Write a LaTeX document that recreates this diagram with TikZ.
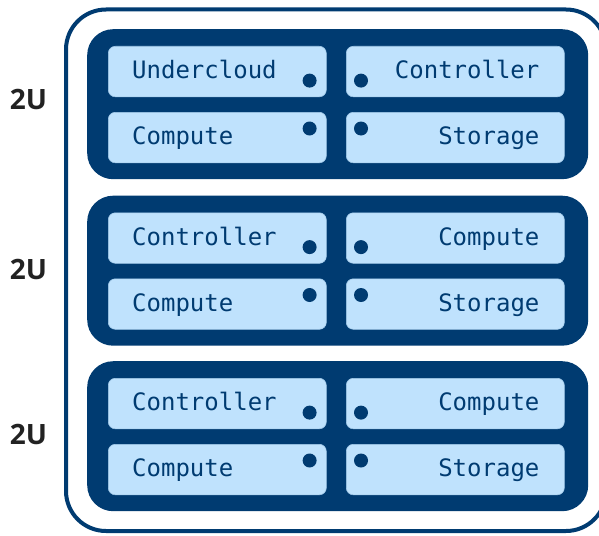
\documentclass[tikz,border=0pt]{standalone}
\usepackage{fontspec}
\setmonofont{DejaVu Sans Mono}
\newfontfamily\unitfont{Open Sans}
\usetikzlibrary{calc}
\definecolor{navy}{HTML}{003B71}
\definecolor{bladeblue}{HTML}{BFE2FD}
\definecolor{unitgray}{HTML}{222222}
\tikzset{
  frame/.style={draw=navy, line width=4pt, rounded corners=40pt},
  rack/.style={fill=navy, draw=none, rounded corners=26pt, inner sep=0pt,
    minimum width=501pt, minimum height=150pt},
  blade/.style={fill=bladeblue, draw=bladeblue!85!navy, line width=0.6pt,
    rounded corners=7pt, inner sep=0pt, minimum width=218pt, minimum height=50.5pt},
  bladetext/.style={inner sep=0pt, text=navy, font=\ttfamily\fontsize{24pt}{28pt}\selectfont},
  led/.style={fill=navy},
  ulabel/.style={inner sep=0pt, text=unitgray, font=\unitfont\bfseries\fontsize{28pt}{32pt}\selectfont}
}
\begin{document}
\begin{tikzpicture}[x=1pt, y=-1pt]
\useasboundingbox (0,0) rectangle (599,535);
% chassis enclosure
\draw[frame] (66,9.5) rectangle (606,531);
% three 2U units, each holding four half-width blades
\foreach \r/\T/\U/\a/\b/\c/\d in {
  1/29/99.3/Undercloud/Controller/Compute/Storage,
  2/195.5/269.3/Controller/Compute/Compute/Storage,
  3/361/434.3/Controller/Compute/Compute/Storage}{
  \node[rack, anchor=north west] (rack\r) at (87,\T) {};
  \node[ulabel] (u\r) at (28.5,\U) {2U};
  \node[blade, anchor=north west] (b\r a) at (108,\T+17) {};
  \node[blade, anchor=north west] (b\r b) at (346,\T+17) {};
  \node[blade, anchor=north west] (b\r c) at (108,\T+83) {};
  \node[blade, anchor=north west] (b\r d) at (346,\T+83) {};
  \node[bladetext, anchor=base west] (t\r a) at ($(b\r a.west)+(24,7.3)$) {\a};
  \node[bladetext, anchor=base east] (t\r b) at ($(b\r b.east)+(-25,7.3)$) {\b};
  \node[bladetext, anchor=base west] (t\r c) at ($(b\r c.west)+(24,7.3)$) {\c};
  \node[bladetext, anchor=base east] (t\r d) at ($(b\r d.east)+(-25,7.3)$) {\d};
  % status LEDs
  \fill[led] ($(b\r a.south east)+(-17,-16.5)$) circle[radius=7pt];
  \fill[led] ($(b\r b.south west)+(15,-16.5)$) circle[radius=7pt];
  \fill[led] ($(b\r c.north east)+(-17,16.5)$) circle[radius=7pt];
  \fill[led] ($(b\r d.north west)+(15,16.5)$) circle[radius=7pt];
}
\end{tikzpicture}
\end{document}
